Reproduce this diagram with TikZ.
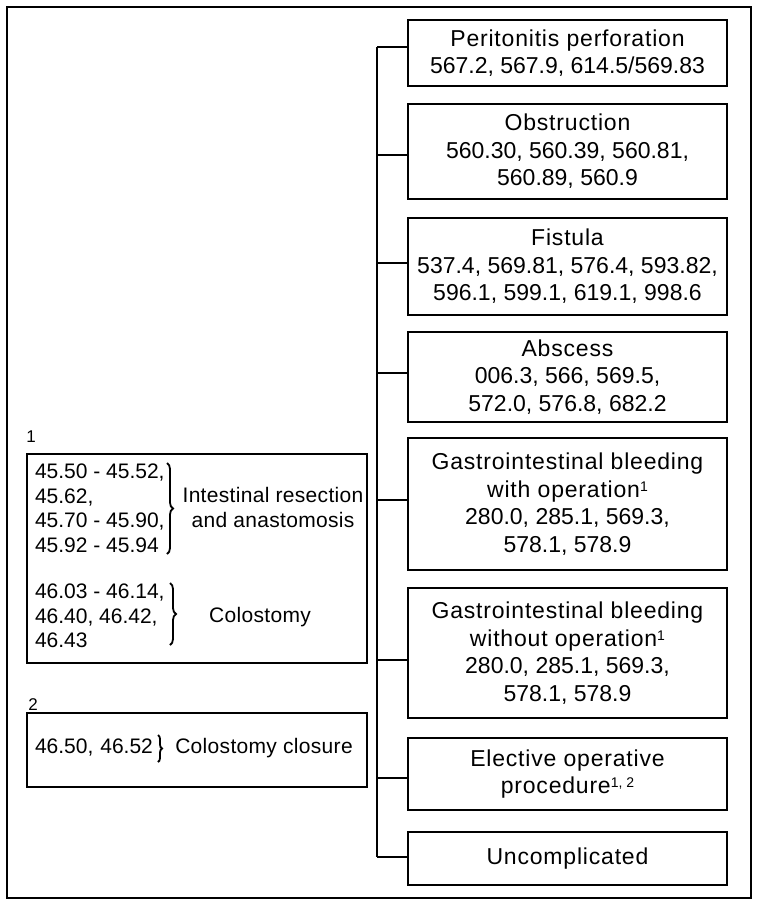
\documentclass[tikz,border=0pt]{standalone}
\usepackage{fontspec}
\setmainfont{Liberation Sans}
\newfontfamily\wordfont[LetterSpace=3.5]{Liberation Sans}
\newfontfamily\wordfontL[LetterSpace=1.5]{Liberation Sans}
\usetikzlibrary{decorations.pathreplacing}
\newcommand{\fnote}[1]{{\fontsize{14}{14}\selectfont\raisebox{6pt}{#1}}}
\newcommand{\w}[1]{{\wordfont #1}}
\newcommand{\wl}[1]{{\wordfontL #1}}
\begin{document}
\begin{tikzpicture}[x=1pt,y=-1pt,line width=2pt,
  rbox/.style={draw,rectangle,minimum width=319pt,inner sep=0pt,align=center,
    font=\fontsize{23}{27.5}\selectfont},
  lbox/.style={draw,rectangle,minimum width=340pt,inner sep=0pt},
  codes/.style={anchor=west,align=left,inner sep=0pt,font=\fontsize{21}{24.5}\selectfont},
  ltext/.style={align=center,inner sep=0pt,font=\fontsize{21}{24.5}\selectfont},
  fnlabel/.style={inner sep=0pt,font=\fontsize{17}{17}\selectfont},
  bracestyle/.style={decorate,decoration={brace,amplitude=6pt},line width=1.8pt}]
\useasboundingbox (0,0) rectangle (759,906);
\draw (7,7) rectangle (751,898);

% right column boxes
\node[rbox,minimum height=66pt]  (peri) at (567.5,53)  {\w{Peritonitis perforation}\\567.2, 567.9, 614.5/569.83};
\node[rbox,minimum height=95pt]  (obst) at (567.5,151.5) {\w{Obstruction}\\560.30, 560.39, 560.81,\\560.89, 560.9};
\node[rbox,minimum height=97pt]  (fist) at (567.5,266.5) {\w{Fistula}\\537.4, 569.81, 576.4, 593.82,\\596.1, 599.1, 619.1, 998.6};
\node[rbox,minimum height=90pt]  (absc) at (567.5,377)  {\w{Abscess}\\006.3, 566, 569.5,\\572.0, 576.8, 682.2};
\node[rbox,minimum height=132pt] (giw)  at (567.5,504)  {\w{Gastrointestinal bleeding}\\\w{with operation}\fnote{1}\\280.0, 285.1, 569.3,\\578.1, 578.9};
\node[rbox,minimum height=130pt] (giwo) at (567.5,653)  {\w{Gastrointestinal bleeding}\\\w{without operation}\fnote{1}\\280.0, 285.1, 569.3,\\578.1, 578.9};
\node[rbox,minimum height=72pt]  (elec) at (567.5,774)  {\w{Elective operative}\\\w{procedure}\fnote{1, 2}};
\node[rbox,minimum height=53pt]  (unc)  at (567.5,858.5) {\w{Uncomplicated}};

% trunk and connectors
\coordinate (j1) at (377,47);
\coordinate (j2) at (377,155);
\coordinate (j3) at (377,263);
\coordinate (j4) at (377,373);
\coordinate (j5) at (377,500);
\coordinate (j6) at (377,660);
\coordinate (j7) at (377,778);
\coordinate (j8) at (377,857);
\draw (j1) -- (j8);
\draw (j1) -- (j1 -| peri.west);
\draw (j2) -- (j2 -| obst.west);
\draw (j3) -- (j3 -| fist.west);
\draw (j4) -- (j4 -| absc.west);
\draw (j5) -- (j5 -| giw.west);
\draw (j6) -- (j6 -| giwo.west);
\draw (j7) -- (j7 -| elec.west);
\draw (j8) -- (j8 -| unc.west);

% left box 1
\node[fnlabel] (n1) at (31,437) {1};
\node[lbox,minimum height=209pt] (box1) at (196.5,558.5) {};
\node[codes] (c1) at (34,508.5) {45.50 - 45.52,\\45.62,\\45.70 - 45.90,\\45.92 - 45.94};
\coordinate (b1t) at (167,463);
\coordinate (b1b) at (167,554);
\draw[bracestyle] (b1t) -- (b1b);
\node[ltext] (t1) at (273,507.5) {\wl{Intestinal resection}\\\wl{and anastomosis}};
\node[codes] (c2) at (34,616) {46.03 - 46.14,\\46.40, 46.42,\\46.43};
\coordinate (b2t) at (170,583);
\coordinate (b2b) at (170,645);
\draw[bracestyle] (b2t) -- (b2b);
\node[ltext] (t2) at (260,617) {\wl{Colostomy}};

% left box 2
\node[fnlabel] (n2) at (33,705) {2};
\node[lbox,minimum height=74pt] (box2) at (197,750) {};
\node[codes] (c3) at (34,748) {46.50,\,\,46.52};
\coordinate (b3t) at (158,735);
\coordinate (b3b) at (158,762);
\draw[bracestyle,decoration={brace,amplitude=4pt}] (b3t) -- (b3b);
\node[ltext] (t3) at (264,748) {\wl{Colostomy closure}};
\end{tikzpicture}
\end{document}
